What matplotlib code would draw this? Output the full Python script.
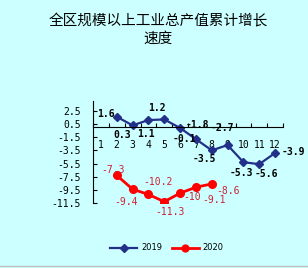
import numpy as np
import matplotlib
matplotlib.use('Agg')
import matplotlib.pyplot as plt
from matplotlib.lines import Line2D

plt.rcParams['font.family'] = ['Noto Sans CJK SC', 'DejaVu Sans']

# data
months = [str(m) for m in range(1, 13)]
v2019 = [np.nan, 1.6, 0.3, 1.1, 1.2, -0.1, -1.8, -3.5, -2.7, -5.3, -5.6, -3.9]
v2020 = [np.nan, -7.3, -9.4, -10.2, -11.3, -10, -9.1, -8.6, np.nan, np.nan, np.nan, np.nan]
labels2019 = ['', '1.6', '0.3', '1.1', '1.2', '-0.1', '-1.8', '-3.5', '-2.7', '-5.3', '-5.6', '-3.9']
labels2020 = ['', '-7.3', '-9.4', '-10.2', '-11.3', '-10', '-9.1', '-8.6', '', '', '', '']
yticks = [2.5, 0.5, -1.5, -3.5, -5.5, -7.5, -9.5, -11.5]

# label offsets in pixels (dx, dy)
off2019 = [None, (-11, 3), (-10, -10), (-2, -14), (-7, 11), (4, -11), (1, 14),
           (-7, -9), (-5, 17), (-2, -11), (7, -10), (18, 1)]
off2020 = [None, (-4, 5), (-7, -13), (10, 12), (6, -10), (12, -4), (18, -13), (16, -7)]

bg = '#CCFFFF'
fig = plt.figure(figsize=(3.08, 2.68), dpi=100, facecolor=bg)
ax = fig.add_axes([93/308, 1-203/268, 190/308, 102/268])
ax.set_facecolor('none')

x = np.arange(1, 13)
ax.plot(x, v2019, color='#22308A', lw=1.6, marker='D', ms=4.2, label='2019')
ax.plot(x, v2020, color='#FF0000', lw=2.0, marker='o', ms=5.5, label='2020')

mono = 'DejaVu Sans Mono'
for i in range(12):
    if labels2019[i]:
        ax.annotate(labels2019[i], (x[i], v2019[i]), xytext=off2019[i],
                    textcoords='offset pixels', ha='center', va='center',
                    fontsize=7, family=mono, fontweight='bold', color='black')
    if i < len(off2020) and labels2020[i]:
        ax.annotate(labels2020[i], (x[i], v2020[i]), xytext=off2020[i],
                    textcoords='offset pixels', ha='center', va='center',
                    fontsize=7, family=mono, color='#CC2233')

ax.set_xlim(0.5, 12.5)
ax.set_ylim(-11.5, 4.0)
ax.spines['top'].set_visible(False)
ax.spines['right'].set_visible(False)
ax.spines['bottom'].set_position(('data', 0))
ax.spines['left'].set_linewidth(0.8)
ax.spines['bottom'].set_linewidth(0.8)

ax.set_yticks(yticks)
ax.set_yticklabels([str(t) for t in yticks], family=mono, fontsize=7)
ax.tick_params(axis='y', direction='in', length=3, width=0.8, pad=9)

ax.set_xticks(x)
ax.set_xticklabels(months, family=mono, fontsize=7)
ax.set_xticks(np.arange(0.5, 13, 1), minor=True)
ax.tick_params(axis='x', which='major', length=0, pad=9)
ax.tick_params(axis='x', which='minor', direction='in', length=3, width=0.8)

fig.text(158/308, 1-30/268, '全区规模以上工业总产值累计增长\n速度', ha='center',
         va='center', fontsize=10.5, linespacing=1.25)

fig.legend(loc='center', bbox_to_anchor=(167/308, 1-248/268), ncol=2, frameon=False,
           prop={'family': 'DejaVu Sans', 'size': 6}, handlelength=3.2,
           handletextpad=0.5, columnspacing=1.2, markerscale=0.9)

fig.add_artist(Line2D([0, 1], [2/268, 2/268], color='#C0C0C0', lw=1))

fig.savefig('out.png', dpi=100, facecolor=bg)
